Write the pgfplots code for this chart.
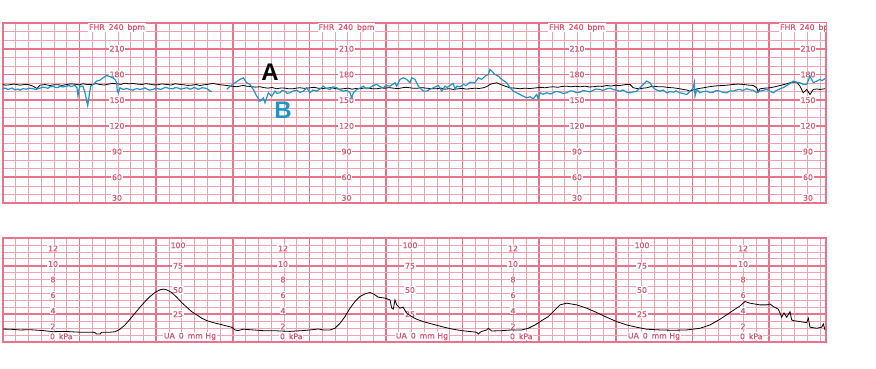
\documentclass[border=0pt]{standalone}
\usepackage{fontspec}
\setmainfont{DejaVu Sans}
\newfontfamily\lblfont[FakeBold=0.7]{DejaVu Sans}
\newfontfamily\arialb{Liberation Sans}
\usepackage{pgfplots}
\pgfplotsset{compat=1.18}
\definecolor{gridminor}{RGB}{243,162,177}
\definecolor{gridmajor}{RGB}{233,115,139}
\definecolor{lab}{RGB}{224,84,112}
\definecolor{traceB}{RGB}{28,150,200}
\pgfplotsset{ctg/.style={scale only axis, width=823pt, xmin=3, xmax=826,
  xtick={3,79.6,...,830}, minor xtick={3,15.7667,...,827},
  grid=both, major grid style={gridmajor, line width=1.6pt},
  minor grid style={gridminor, line width=0.7pt},
  xticklabels={}, yticklabels={}, major tick length=0pt, minor tick length=0pt,
  axis line style={gridmajor, line width=1.6pt}, clip=true}}
\tikzset{lbl/.style={font=\lblfont\fontsize{7.8}{8}\selectfont, text=lab, fill=white, inner sep=0.8pt}}
\begin{document}
\begin{tikzpicture}[x=1pt,y=1pt]
\useasboundingbox (0,0) rectangle (876,368);
% ---------- FHR ----------
\begin{axis}[ctg, at={(3pt,165pt)}, anchor=south west, height=180pt,
  ymin=30, ymax=240, ytick={30,60,...,240}, minor ytick={30,40,...,240}]
\pgfplotsinvokeforeach{117,346.5,577,808}{
  \node[lbl] at (axis cs:#1,234.4) {FHR\enspace 240\enspace bpm};
  \node[lbl] at (axis cs:#1,210) {210};
  \node[lbl] at (axis cs:#1,180) {180};
  \node[lbl] at (axis cs:#1,150) {150};
  \node[lbl] at (axis cs:#1,120) {120};
  \node[lbl] at (axis cs:#1,90) {90};
  \node[lbl] at (axis cs:#1,60) {60};
  \node[lbl] at (axis cs:#1,36) {30};
}
% A (black)
\addplot[black, line width=0.8pt] coordinates {
(2,168.3)(6,167.5)(10,168.0)(14,168.8)(20,167.5)(24,168.2)(28,168.3)(33,166.3)(37,163.6)(40,167.5)
(45,168.2)(50,167.1)(54,168.0)(58,168.0)(62,167.2)(67,168.3)(71,169.0)(75,168.6)(79,167.8)(83,169.1)
(87,168.2)(92,168.3)(96,169.2)(100,168.3)(104,167.6)(108,168.6)(112,169.5)(117,169.1)(121,168.4)(125,169.8)
(129,169.0)(133,169.5)(138,168.6)(142,168.3)(146,169.2)(150,168.6)(154,167.8)(158,168.0)(162,168.9)(167,168.3)
(171,167.6)(175,169.1)(179,168.5)(183,168.0)(188,167.2)(192,167.5)(196,168.3)(200,167.1)(204,167.9)(207,168.3)
(213,169.5)(217,168.6)(220,168.0)(226.7,167.1)(231,166.4)(236.7,165.6)(240,166.5)(243.3,167.1)(247,166.2)(250,166.0)
(255,165.2)(260,165.6)(264,164.6)(268,164.0)(272,164.8)(276.7,163.3)(281,164.2)(285,164.0)(289,163.2)(293.3,163.3)
(297,164.2)(300,164.4)(305,163.7)(310,164.4)(314,165.0)(318,164.0)(322,163.5)(326.7,164.0)(331,164.6)(335,163.6)
(339,162.9)(343.3,163.3)(348,164.0)(352,162.8)(356,163.6)(360,163.3)(364,164.2)(368,164.0)(372,163.4)(376.7,163.3)
(381,164.1)(385,164.0)(389,164.6)(393.3,164.0)(398,163.4)(402,164.4)(406,165.0)(410,164.4)(414,163.8)(418,164.0)
(422,164.6)(426,164.0)(431,163.5)(436.7,163.3)(441,164.0)(445,162.8)(449,163.4)(453.3,162.5)(458,163.2)(462,163.8)
(466,162.9)(470,163.3)(475,164.0)(479,163.6)(483.3,164.4)(487,166.0)(490,168.3)(493,169.4)(496.7,170.3)(500,168.6)
(503.3,167.1)(507,165.6)(510,164.4)(515,164.0)(520,163.3)(525,164.0)(530,163.6)(536.7,164.4)(541,165.0)(545,164.4)
(549,165.2)(553.3,165.6)(558,165.0)(562,166.0)(566.7,166.3)(571,165.6)(575,166.2)(580,165.6)(585,166.3)(589,165.4)
(593.3,165.6)(598,166.4)(602,166.0)(606.7,167.1)(611,166.5)(615,167.3)(620,167.1)(624,167.8)(626.7,168.3)(630,168.3)
(633.3,164.4)(637,163.6)(640,163.3)(643,164.0)(646.7,164.4)(650,165.5)(653.3,166.3)(658,165.6)(663.3,165.6)(668,164.8)
(673.3,164.4)(678,163.6)(683.3,162.5)(687,161.8)(690,160.5)(692,161.5)(695,162.5)(699,163.6)(703.3,164.4)(708,165.4)
(713.3,166.3)(718,166.8)(723.3,167.1)(728,167.6)(733.3,168.3)(738,168.8)(743.3,168.3)(748,167.6)(753.3,167.1)(756.7,164.4)
(758.3,159.3)(760,163.3)(765,164.0)(770,164.4)(775,165.6)(780,167.1)(785,168.5)(790,170.3)(793,171.0)(796.7,171.0)
(800,166.3)(803.3,158.6)(806.7,162.5)(810,156.6)(813.3,162.5)(817,163.0)(820,162.5)(825,163.3)
};
% B (blue), first part
\addplot[traceB, line width=1.2pt] coordinates {
(2,162.5)(4,164.0)(6,163.8)(8,162.4)(10,163.3)(12,164.2)(15,162.0)(18,163.0)(20,161.6)(23,163.5)(26,162.8)(29,164.0)(33,163.3)(36,162.5)(40,164.0)(43,165.2)(45,164.8)(48,163.8)(50,165.6)
(53,166.2)(55,165.0)(58,164.6)(60,166.4)(63,165.4)(67,166.3)(69,167.2)(71,165.8)(73,166.6)(75,167.1)(77,164.4)(78,154.6)(79,163.0)(80,166.3)(83,166.3)
(85,158.6)(86.5,150)(87.7,143.7)(89.3,156.6)(90.7,166.3)(93.3,168.3)(96.7,172.2)(100,173.3)(103,176.1)(106.7,178.8)
(110,177.3)(113,176.0)(115,174.2)(116.7,170.3)(117.3,160.5)(118.3,158.6)(120,164.4)(123,162.5)(126.7,163.6)(130,162.4)
(133,161.6)(135,163.0)(137,163.3)(140,162.6)(143,163.3)(145,164.3)(148,162.2)(150,161.8)(153,162.5)(156,164.0)(158,163.6)(160,162.6)(162,163.0)(165,164.8)(167,164.4)(170,163.5)
(173,163.3)(175,164.6)(178,164.2)(181,162.8)(183,163.6)(187,164.4)(190,162.8)(192,163.4)(194,164.8)(196,164.0)(198,162.6)(200,163.3)(202,164.5)(204,164.2)(207,163.6)(210,160.5)(212,160.1)
};
% B (blue), second part
\addplot[traceB, line width=1.2pt] coordinates {
(226.7,162.5)(230,166.3)(235,170.3)(240,174.2)(243.3,176.1)(246.7,170.3)(250,168.3)(253.3,162.5)(256.7,154.6)(260,148.8)
(263.3,152.7)(265,146.9)(268.3,158.6)(271.7,154.6)(275,160.5)(277,158.0)(280,158.6)(282,161.2)(285,160.5)(287,158.0)(290,158.6)(293,160.6)(296.7,161.6)(300,159.0)(303.3,160.5)
(306.7,164.4)(310,158.6)(313,161.8)(316.7,160.5)(320,163.0)(323.3,166.3)(326,163.8)(330,162.5)(333,165.5)(336.7,164.4)(340,162.0)(343.3,160.5)(347,161.5)(350,158.6)(351.7,152.7)(353.3,158.6)
(356.7,162.5)(360,164.0)(363.3,166.3)(366,163.5)(370,164.4)(373,167.0)(376.7,168.3)(380,165.8)(383.3,164.4)(386,167.2)(390,166.3)(395,170.3)(396.7,166.3)(400,174.2)(403.3,176.1)
(406.7,174.2)(410,170.3)(411.7,176.1)(415,174.2)(418.3,166.3)(423.3,160.5)(426.7,160.5)(430,162.8)(433.3,164.4)(436,165.8)(438.3,167.1)(441.7,160.5)
(445,166.3)(447,164.8)(450,167.1)(453.3,169.5)(455,162.5)(456.7,166.3)(460,165.5)(463.3,168.3)(466,167.0)(470,171.0)(475,170.3)(478.3,176.1)(481.7,174.2)
(485,178.0)(488.3,180.0)(490,185.9)(491.7,183.9)(495,180.0)(498.3,178.0)(501.7,174.2)(506.7,170.3)(510,164.4)(513.3,160.5)
(516.7,158.6)(520,156.6)(523.3,154.6)(526.7,152.7)(530,154.0)(533.3,151.6)(536.7,156.6)(538.3,151.6)(540,158.6)(543,156.8)(546.7,158.6)(550,157.2)(553.3,158.6)
(556,160.2)(560,159.3)(563,157.8)(566.7,158.6)(570,160.8)(573.3,160.5)(576,158.8)(580,159.3)(583,161.2)(586.7,160.5)(590,159.6)(593.3,161.6)(596,163.0)(600,162.5)(603,161.2)(606.7,163.3)(610,164.0)(613.3,162.5)(616,161.4)(620,160.5)
(623,161.8)(626.7,159.3)(630,158.6)(636.7,160.5)(643.3,168.3)(646.7,172.2)(650,170.3)(653.3,164.4)(656,162.2)(660,160.5)(663,161.8)(666.7,158.6)(670,160.0)(673.3,159.3)
(676,160.8)(680,158.6)(683,157.8)(686.7,156.6)(690,160.5)(693.3,164.4)(694.3,170.3)(695,154.6)(696.7,162.5)(700,158.6)(703,160.0)(706.7,160.5)(710,158.8)(713.3,159.3)
(716,161.2)(720,160.5)(723,159.0)(726.7,158.6)(730,160.8)(733.3,160.5)(736,161.8)(740,162.5)(743,161.2)(746.7,163.3)(750,162.0)(753.3,161.6)(756.7,158.6)(760,160.5)(763,161.4)(766.7,162.5)(770,160.5)(773.3,158.6)
(776,161.0)(780,163.3)(783,164.5)(786.7,167.1)(790,169.4)(793.3,172.2)(796,171.0)(800,170.3)(803,168.5)(806.7,168.3)(810,178.0)(813.3,170.3)(816.7,172.2)(820,174.2)(822,172.8)(825,175.0)
};
\node[font=\arialb\bfseries\fontsize{24}{24}\selectfont, text=black, inner sep=0pt] at (axis cs:270,182) {A};
\node[font=\arialb\bfseries\fontsize{24}{24}\selectfont, text=traceB, inner sep=0pt] at (axis cs:283,138) {B};
\end{axis}
% ---------- UA ----------
\begin{axis}[ctg, at={(3pt,26pt)}, anchor=south west, height=104pt,
  ymin=0, ymax=100, ytick={26.6667,73.3333}, minor ytick={0,6.6667,...,101}]
\pgfplotsinvokeforeach{53,283,513,743}{
  \node[lbl] at (axis cs:#1,90) {12};
  \node[lbl] at (axis cs:#1,75) {10};
  \node[lbl] at (axis cs:#1,60) {8};
  \node[lbl] at (axis cs:#1,45) {6};
  \node[lbl] at (axis cs:#1,30) {4};
  \node[lbl] at (axis cs:#1,15) {2};
  \node[lbl, anchor=west] at (axis cs:#1-4,5.5) {0\enspace kPa};
}
\pgfplotsinvokeforeach{178,410,642}{
  \node[lbl] at (axis cs:#1,93) {100};
  \node[lbl] at (axis cs:#1,73.3) {75};
  \node[lbl] at (axis cs:#1,50) {50};
  \node[lbl] at (axis cs:#1,26.7) {25};
  \node[lbl] at (axis cs:#1+12,5.3) {UA\enspace 0\enspace mm Hg};
}
\addplot[black, line width=0.8pt] coordinates {
(0,12.5)(10,12.3)(20,11.6)(30,11.8)(43,11.0)(53,9.9)(65,10.2)(80,9.4)(93,9.4)(95,9.0)
(96.7,7.7)(100,7.6)(101.7,9.4)(110,9.4)(115,9.9)(120,12.3)(125,16.4)(130,21.9)(135,27.7)(140,33.5)
(145,38.9)(150,43.7)(155,47.6)(160,50.2)(163.3,50.9)(166.7,50.2)(171.7,47.6)(176.7,43.1)(181.7,37.9)(186.7,33.5)
(191.7,29.2)(196.7,26.1)(201.7,22.9)(206.7,20.6)(213.3,18.6)(220,17.1)(226.7,15.4)(231.7,14.2)(235,11.6)(238,11.0)
(243.3,12.3)(253.3,11.6)(263,10.9)(273.3,10.9)(280,10.6)(290,10.2)(301.7,10.9)(310,11.6)(318.3,12.5)(323.3,11.6)
(330,11.6)(335,13.2)(340,18.0)(345,24.4)(350,32.5)(355,38.9)(360,43.7)(365,46.3)(370,47.6)(373.3,46.3)
(378.3,43.1)(385,42.2)(390,40.5)(391.7,32.5)(393.3,31.6)(395,40.5)(396.7,35.7)(400,32.5)(403,33.5)(406.7,27.7)
(411.7,24.4)(416.7,21.9)(423.3,19.6)(431.7,17.4)(441.7,14.8)(451.7,12.5)(461.7,10.9)(471.7,9.9)(476.7,9.4)(478.3,7.7)
(481,9.9)(486.7,11.6)(488.3,13.2)(491.7,10.6)(501.7,10.9)(511.7,11.6)(521.7,11.6)(528.3,13.2)(535,16.4)(541.7,20.6)
(548.3,24.4)(555,30.9)(560,35.7)(566.7,37.3)(576.7,35.7)(586.7,32.5)(596.7,28.3)(606.7,23.8)(616.7,19.6)(626.7,16.4)
(636.7,14.2)(646.7,12.3)(660,11.6)(673.3,11.3)(686.7,11.6)(700,13.2)(710,16.4)(720,21.9)(730,28.3)(740,34.7)
(745,38.9)(750,37.3)(760,35.7)(766.7,35.7)(770,36.5)(773.3,34.1)(778.3,31.6)(781.7,23.8)(784,28.0)(786.7,23.8)
(790,29.2)(791.7,21.2)(793.3,20.6)(800,19.6)(806.7,18.6)(808.3,22.9)(810,14.2)(816.7,13.2)(821.7,14.2)(823.3,17.4)(825,11.6)
};
\end{axis}
\end{tikzpicture}
\end{document}
